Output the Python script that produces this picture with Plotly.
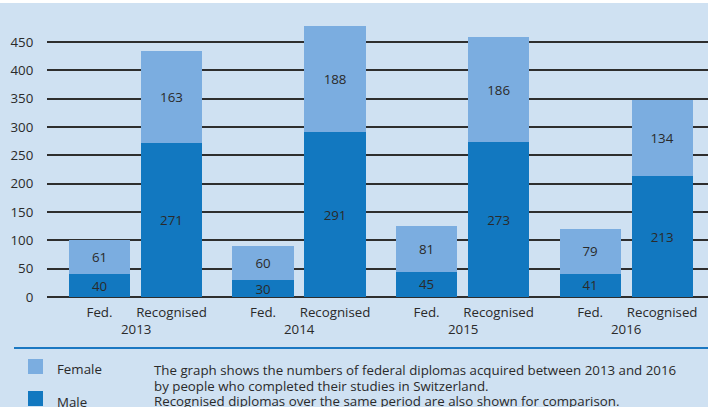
import plotly.graph_objects as go

years = ["2013", "2014", "2015", "2016"]
types = ["Fed.", "Recognised"]
fed_male = [40, 30, 45, 41]
fed_female = [61, 60, 81, 79]
rec_male = [271, 291, 273, 213]
rec_female = [163, 188, 186, 134]
y_ticks = [0, 50, 100, 150, 200, 250, 300, 350, 400, 450]
legend_labels = ["Female", "Male"]
note_lines = [
    "The graph shows the numbers of federal diplomas acquired between 2013 and 2016",
    "by people who completed their studies in Switzerland.",
    "Recognised diplomas over the same period are also shown for comparison.",
]

W, H = 708, 407
BG = "#cfe1f2"
FEMALE = "#7bade0"
MALE = "#1278c0"
TXT = "#2a2a2a"
FONT = "Open Sans"
FS = 13.3

group_step = 2.271
fed_x = [i * group_step for i in range(len(years))]
rec_x = [i * group_step + 1 for i in range(len(years))]
bar_w = 0.85

def py(p):
    return 1 - p / H

def px(p):
    return p / W

fig = go.Figure()
for xs, male, female in [(fed_x, fed_male, fed_female), (rec_x, rec_male, rec_female)]:
    for vals, col in [(male, MALE), (female, FEMALE)]:
        fig.add_trace(go.Bar(x=xs, y=vals, width=bar_w, marker=dict(color=col, line=dict(width=0)),
                             text=[str(v) for v in vals], textposition="inside", insidetextanchor="middle",
                             textangle=0, constraintext="none", hoverinfo="skip",
                             textfont=dict(color=TXT, size=FS, family=FONT), showlegend=False))

tickvals = []
ticktext = []
for f, r in zip(fed_x, rec_x):
    tickvals += [f, r]
    ticktext += types

ymax = 287 / 0.5667
fig.update_layout(
    width=W, height=H, barmode="stack",
    margin=dict(l=0, r=0, t=0, b=0, pad=0, autoexpand=False),
    paper_bgcolor=BG, plot_bgcolor=BG,
    font=dict(family=FONT, size=FS, color=TXT),
    uniformtext=dict(minsize=FS, mode="show"),
    showlegend=False,
    xaxis=dict(domain=[px(47), 1], range=[-0.729, 8.45], tickvals=tickvals, ticktext=ticktext,
               automargin=False, showgrid=False, zeroline=False, ticks="outside", ticklen=3,
               tickcolor="rgba(0,0,0,0)", tickfont=dict(size=FS, color=TXT)),
    yaxis=dict(domain=[py(297), py(10)], range=[0, ymax], tickvals=y_ticks, automargin=False,
               showgrid=True, gridcolor="#2e2e2e", gridwidth=1.6, zeroline=True, zerolinecolor="#2e2e2e",
               zerolinewidth=1.6, ticks="outside", ticklen=10, tickcolor="rgba(0,0,0,0)",
               tickfont=dict(size=FS, color=TXT)),
)

shapes = [
    dict(type="rect", xref="paper", yref="paper", x0=0, x1=1, y0=py(3), y1=1,
         fillcolor="white", line=dict(width=0), layer="above"),
    dict(type="line", xref="paper", yref="paper", x0=px(14), x1=1, y0=py(348), y1=py(348),
         line=dict(color="#1b78c2", width=2)),
    dict(type="rect", xref="paper", yref="paper", x0=px(28), x1=px(43), y0=py(374), y1=py(359),
         fillcolor=FEMALE, line=dict(width=0)),
    dict(type="rect", xref="paper", yref="paper", x0=px(28), x1=px(43), y0=py(406), y1=py(391),
         fillcolor=MALE, line=dict(width=0)),
]
fig.update_layout(shapes=shapes)

ann = []
for i, y in enumerate(years):
    ann.append(dict(x=(fed_x[i] + rec_x[i]) / 2, xref="x", y=py(329), yref="paper", text=y,
                    showarrow=False, xanchor="center", yanchor="middle", font=dict(size=FS, color=TXT)))
for lab, yy in zip(legend_labels, [369, 402]):
    ann.append(dict(x=px(55), xref="paper", y=py(yy), yref="paper", text=lab, showarrow=False,
                    xanchor="left", yanchor="middle", font=dict(size=FS, color=TXT)))
for line, yy in zip(note_lines, [370, 385.5, 401]):
    ann.append(dict(x=px(152), xref="paper", y=py(yy), yref="paper", text=line, showarrow=False,
                    xanchor="left", yanchor="middle", font=dict(size=FS, color=TXT)))
fig.update_layout(annotations=ann)

fig.write_html("out.html", config={"displayModeBar": False},
               post_script="document.body.style.margin='0';document.body.style.padding='0';")
